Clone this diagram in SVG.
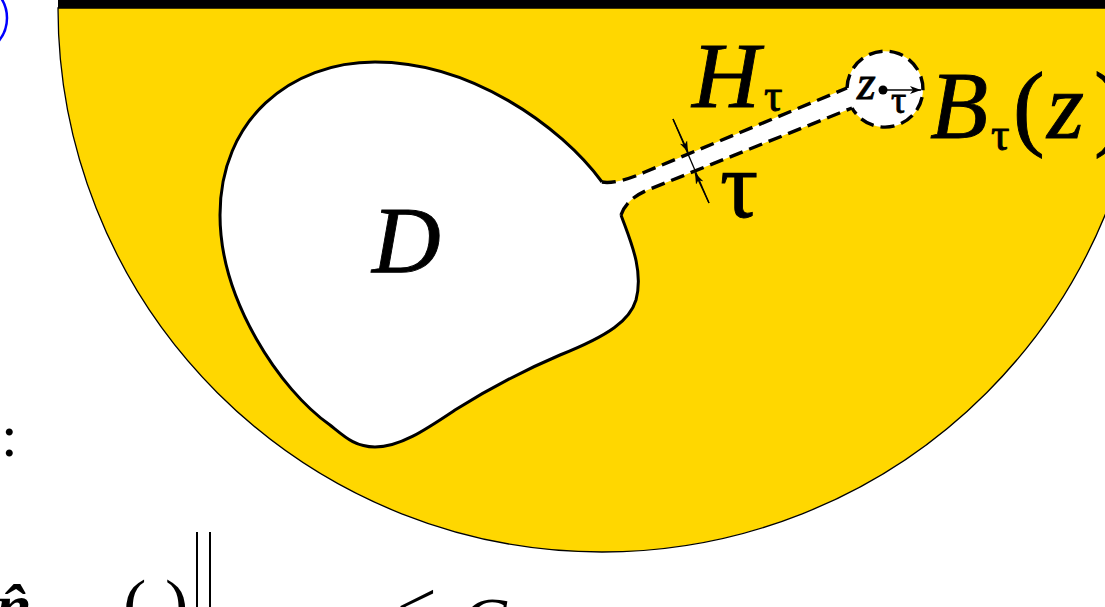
<svg xmlns="http://www.w3.org/2000/svg" width="1105" height="607" viewBox="0 0 1105 607">
<defs>
<style>
.serif{font-family:"Liberation Serif","Times New Roman",serif;fill:#000}
.it{font-style:italic}
.heavy{stroke:#000;stroke-width:0.9}
.solid{fill:none;stroke:#000;stroke-width:3;stroke-linejoin:round}
.dash{fill:none;stroke:#000;stroke-width:3.4;stroke-dasharray:14 7}
</style>
<marker id="ah" markerWidth="12" markerHeight="8" refX="11" refY="4" orient="auto" markerUnits="userSpaceOnUse">
<path d="M0,0 L11,4 L0,8 L3,4 Z" fill="#000"/>
</marker>
</defs>
<rect width="1105" height="607" fill="#fff"/>
<circle cx="-29" cy="18" r="36" fill="none" stroke="#0000ff" stroke-width="2.5"/>
<g id="domain">
<path d="M58,8 A544,544 0 0 0 1146,8 Z" fill="#FFD700" stroke="#000" stroke-width="1.3"/>
<rect x="58" y="0" width="1047" height="8" fill="#000"/>
</g>
<g id="hole">
<path d="M602,182 C612,184 630,179 645,172 L847,88 A38,38 0 1 1 852,108 L650,189 C635,195 625,203 621,215 C630,240 644,270 636,300 C630,320 610,335 560,355 C520,372 490,388 455,410 C425,430 400,447 375,447 C355,447 345,437 330,425 C280,390 220,300 220,215 C220,120 290,62 375,62 C470,62 560,125 602,182 Z" fill="#fff"/>
<path class="solid" d="M602,182 C560,125 470,62 375,62 C290,62 220,120 220,215 C220,300 280,390 330,425 C345,437 355,447 375,447 C400,447 425,430 455,410 C490,388 520,372 560,355 C610,335 630,320 636,300 C644,270 630,240 621,215"/>
<text class="serif it heavy" x="372" y="273" font-size="95">D</text>
</g>
<g id="channel">
<path class="dash" d="M602,182 C612,184 630,179 645,172 L847,88"/>
<path class="dash" d="M621,215 C625,203 635,195 650,189 L852,108"/>
<text class="serif it heavy" x="692" y="107" font-size="94">H</text>
<text class="serif heavy" x="764" y="111" font-size="46" stroke-width="0.5">τ</text>
</g>
<g id="ball">
<path class="dash" d="M847,88 A38,38 0 1 1 852,108"/>
<circle cx="883" cy="90" r="4.5" fill="#000"/>
<text class="serif it heavy" x="857" y="99" font-size="48" stroke-width="0.5">z</text>
<text class="serif heavy" x="891" y="113" font-size="38" stroke-width="0.4">τ</text>
<text class="serif it heavy" x="930" y="138" font-size="95">B</text>
<text class="serif heavy" x="991" y="150" font-size="46" stroke-width="0.5">τ</text>
<text class="serif heavy" x="1013" y="138" font-size="95" stroke-width="0.5">(</text>
<text class="serif it heavy" x="1047" y="138" font-size="95">z</text>
<text class="serif heavy" x="1094" y="138" font-size="95" stroke-width="0.5">)</text>
</g>
<g id="connectors">
<line x1="673" y1="119" x2="709" y2="203" stroke="#000" stroke-width="1.3"/>
<line x1="673" y1="119" x2="688" y2="152" stroke="#000" stroke-width="1.3" marker-end="url(#ah)"/>
<line x1="709" y1="203" x2="695" y2="173" stroke="#000" stroke-width="1.3" marker-end="url(#ah)"/>
<line x1="883" y1="90" x2="921" y2="90" stroke="#000" stroke-width="1.3" marker-end="url(#ah)"/>
</g>
<text class="serif heavy" x="720" y="217" font-size="95">τ</text>
<g id="surrounding">
<text class="serif" x="1" y="456" font-size="60">:</text>
<text class="serif it" x="-4" y="628" font-size="64" font-weight="bold">n̂</text>
<text class="serif" x="123" y="628" font-size="70">(</text>
<text class="serif" x="165" y="628" font-size="70">)</text>
<line x1="197" y1="532" x2="197" y2="607" stroke="#000" stroke-width="2"/>
<line x1="210" y1="532" x2="210" y2="607" stroke="#000" stroke-width="2"/>
<text class="serif" x="397" y="630" font-size="70">&lt;</text>
<text class="serif it" x="460" y="646" font-size="70">C</text>
</g>
</svg>
